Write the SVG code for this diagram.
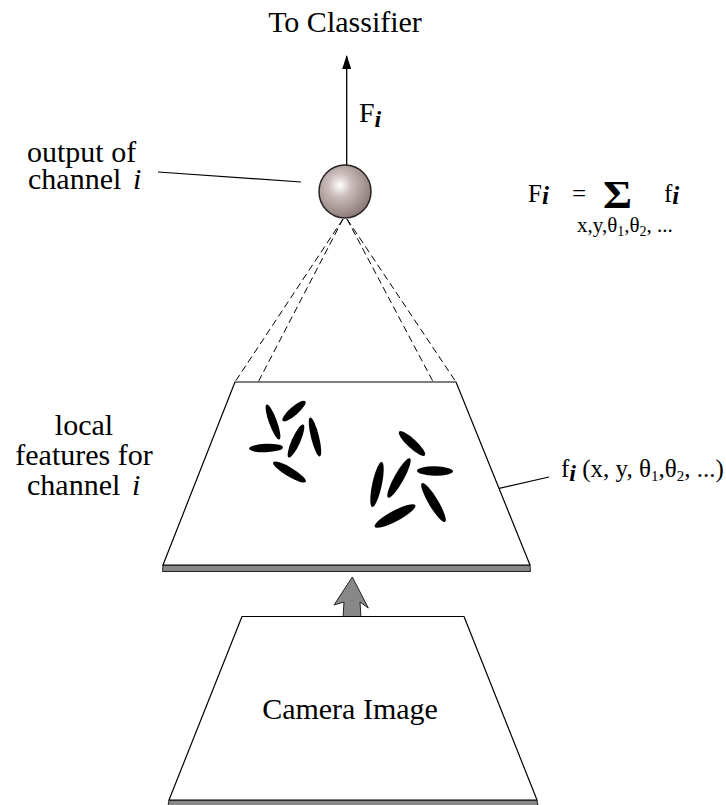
<svg xmlns="http://www.w3.org/2000/svg" width="726" height="805" viewBox="0 0 726 805">
  <defs>
    <radialGradient id="sphereShade" cx="0.4" cy="0.38" r="0.65">
      <stop offset="0" stop-color="#ffffff"/>
      <stop offset="0.35" stop-color="#c9bcba"/>
      <stop offset="1" stop-color="#8a7876"/>
    </radialGradient>
    <marker id="arrowHead" viewBox="0 0 14 10" refX="13" refY="5" markerWidth="14" markerHeight="10" markerUnits="userSpaceOnUse" orient="auto">
      <path d="M0,0.5 L14,5 L0,9.5 Z" fill="#000"/>
    </marker>
    <style>
      .lbl { font-family: "Liberation Serif", "Times New Roman", serif; font-size: 30px; fill: #000; }
      .math { font-family: "Liberation Serif", "Times New Roman", serif; font-size: 25px; fill: #000; }
      .sub { font-family: "Liberation Serif", "Times New Roman", serif; font-size: 21px; fill: #000; }
      .it { font-style: italic; font-weight: bold; }
      .plane { fill: #fff; stroke: #000; stroke-width: 1.2; stroke-linejoin: round; }
      .slab { fill: #888; stroke: #222; stroke-width: 1; }
      .lead { stroke: #000; stroke-width: 1.2; fill: none; }
      .dash { stroke: #000; stroke-width: 1; fill: none; stroke-dasharray: 7 4; }
      .blob { fill: #000; }
    </style>
  </defs>

  <!-- output heading -->
  <g id="classifier">
    <text class="lbl" x="345" y="32" text-anchor="middle">To Classifier</text>
  </g>

  <!-- connectors -->
  <g id="connectors">
    <line x1="346.7" y1="165" x2="346.7" y2="56" stroke="#000" stroke-width="1.3" marker-end="url(#arrowHead)"/>
    <!-- receptive field of the channel unit -->
    <line class="dash" x1="343" y1="219" x2="235" y2="382"/>
    <line class="dash" x1="343" y1="219" x2="163" y2="565"/>
    <line class="dash" x1="347" y1="219" x2="456" y2="382"/>
    <line class="dash" x1="347" y1="219" x2="530" y2="565"/>
    <!-- callout leaders -->
    <line class="lead" x1="158" y1="172" x2="301" y2="182"/>
    <line class="lead" x1="449" y1="500" x2="549" y2="477"/>
    <!-- camera image to features -->
    <path d="M352.3,577 L368.3,608 L360,602 L363.3,656.7 L340.7,656.7 L344,602 L334,605 Z" fill="#888" stroke="#222" stroke-width="1" stroke-linejoin="miter"/>
  </g>

  <!-- F_i label on the output arrow -->
  <g id="output-label">
    <text class="lbl" x="359" y="122" style="font-size:28px">F<tspan class="it" dy="5" style="font-size:24px">i</tspan></text>
  </g>

  <!-- channel unit -->
  <g id="channel-unit">
    <ellipse cx="345" cy="191.5" rx="26" ry="26.5" fill="url(#sphereShade)" stroke="#2a2222" stroke-width="1.5"/>
  </g>

  <g id="channel-label">
    <text class="lbl" x="27" y="162">output of</text>
    <text class="lbl" x="28" y="189">channel <tspan class="it" x="133" style="font-weight:normal">i</tspan></text>
  </g>

  <!-- summation formula -->
  <g id="formula">
    <text class="math" x="528" y="202">F<tspan class="it" dy="2">i</tspan></text>
    <text class="math" x="572" y="202">=</text>
    <text class="math" x="603" y="208" textLength="29" lengthAdjust="spacingAndGlyphs" style="font-size:40px;font-weight:bold">Σ</text>
    <text class="math" x="664" y="202">f<tspan class="it" dy="2">i</tspan></text>
    <text class="sub" x="577" y="232">x,y,θ<tspan dy="4" style="font-size:14px">1</tspan><tspan dy="-4">,θ</tspan><tspan dy="4" style="font-size:14px">2</tspan><tspan dy="-4">, ...</tspan></text>
  </g>

  <!-- local feature plane -->
  <g id="feature-plane">
    <polygon class="slab" points="163,565 530,565 530.5,571.5 162.5,571.5"/>
    <polygon class="plane" points="235,382 456,382 530,565 163,565"/>
    <g id="features-left">
      <ellipse class="blob" cx="273" cy="422" rx="18.5" ry="4" transform="rotate(70 273 422)"/>
      <ellipse class="blob" cx="294" cy="411" rx="15" ry="4.2" transform="rotate(-41 294 411)"/>
      <ellipse class="blob" cx="315" cy="437" rx="20" ry="4" transform="rotate(76 315 437)"/>
      <ellipse class="blob" cx="296" cy="441" rx="18" ry="4.3" transform="rotate(-66 296 441)"/>
      <ellipse class="blob" cx="266" cy="448" rx="17" ry="4.2" transform="rotate(-2 266 448)"/>
      <ellipse class="blob" cx="289.5" cy="472" rx="19" ry="4.5" transform="rotate(31 289.5 472)"/>
    </g>
    <g id="features-right">
      <ellipse class="blob" cx="412" cy="443.5" rx="17.5" ry="4.6" transform="rotate(43 412 443.5)"/>
      <ellipse class="blob" cx="377" cy="484.5" rx="23" ry="4.8" transform="rotate(-78 377 484.5)"/>
      <ellipse class="blob" cx="399" cy="478" rx="22.5" ry="4.8" transform="rotate(-61 399 478)"/>
      <ellipse class="blob" cx="435" cy="471" rx="18" ry="4.7" transform="rotate(1 435 471)"/>
      <ellipse class="blob" cx="433.5" cy="502.5" rx="22.5" ry="4.8" transform="rotate(59 433.5 502.5)"/>
      <ellipse class="blob" cx="395" cy="516" rx="23" ry="5.3" transform="rotate(-28 395 516)"/>
    </g>
  </g>

  <g id="feature-label">
    <text class="lbl" x="84" y="435" text-anchor="middle">local</text>
    <text class="lbl" x="84" y="465" text-anchor="middle">features for</text>
    <text class="lbl" x="27" y="495">channel <tspan class="it" x="132" style="font-weight:normal">i</tspan></text>
  </g>

  <g id="feature-formula">
    <text class="math" x="561" y="477">f<tspan class="it" dy="4" style="font-size:24px">i</tspan><tspan dy="-4"> (x, y, θ</tspan><tspan dy="4" style="font-size:15px">1</tspan><tspan dy="-4">,θ</tspan><tspan dy="4" style="font-size:15px">2</tspan><tspan dy="-4">, ...)</tspan></text>
  </g>

  <!-- camera image plane -->
  <g id="camera-image">
    <polygon class="slab" points="169,800 537,800 538,806 168,806"/>
    <polygon class="plane" points="242,616.5 464,616.5 537,800 169,800"/>
    <text class="lbl" x="350" y="719" text-anchor="middle">Camera Image</text>
  </g>
</svg>
